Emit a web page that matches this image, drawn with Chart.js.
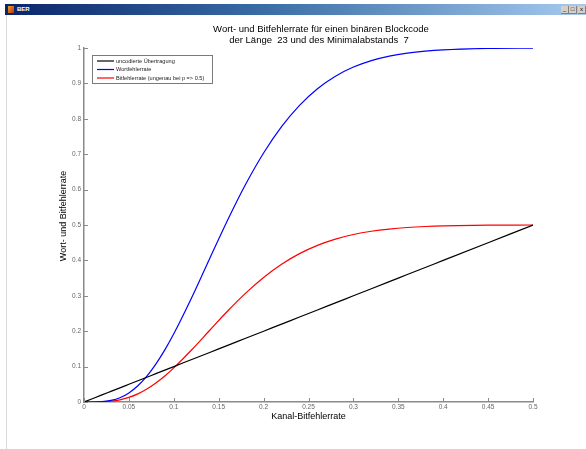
<!DOCTYPE html>
<html>
<head>
<meta charset="utf-8">
<script src="https://cdn.jsdelivr.net/npm/chart.js@4/dist/chart.umd.min.js"></script>
<style>
  html, body { margin: 0; padding: 0; background: #fff; }
  #wrap { position: relative; width: 586px; height: 449px; overflow: hidden; }
  #plot { position: absolute; left: 0; top: 0; }
  .titlebar { position: absolute; left: 5px; top: 4px; width: 581px; height: 11px;
    background: linear-gradient(to right, #0a246a, #3a6ea5 45%, #a6caf0); }
  .titlebar .icon { position: absolute; left: 3px; top: 2px; width: 6px; height: 7px;
    background: linear-gradient(135deg, #f0a020, #c03010); }
  .titlebar .name { position: absolute; left: 12px; top: 1px; color: #fff;
    font: bold 6px "Liberation Sans", Arial, sans-serif; line-height: 9px; }
  .titlebar .btn { position: absolute; top: 2px; width: 7px; height: 7px; background: #d4d0c8;
    border: 0 solid #808080; border-right-width: 1px; border-bottom-width: 1px;
    font: 6px "Liberation Sans", Arial, sans-serif; line-height: 7px; text-align: center; color: #000; }
  .edge { position: absolute; left: 6px; top: 15px; width: 1px; height: 434px; background: #d8d8d8; }
</style>
</head>
<body>
<div id="wrap">
  <canvas id="plot" width="586" height="449"></canvas>
  <div class="titlebar">
    <div class="icon"></div>
    <div class="name">BER</div>
    <div class="btn" style="left:556px">_</div>
    <div class="btn" style="left:564px">□</div>
    <div class="btn" style="left:573px">x</div>
  </div>
  <div class="edge"></div>
</div>
<script>
// Kanal-Bitfehlerrate p
const pValues = [0, 0.01, 0.02, 0.03, 0.04, 0.05, 0.06, 0.07, 0.08, 0.09, 0.10,
  0.12, 0.14, 0.16, 0.18, 0.20, 0.22, 0.24, 0.26, 0.28, 0.30,
  0.32, 0.34, 0.36, 0.38, 0.40, 0.45, 0.50];
// uncodierte Übertragung
const uncoded = [0, 0.01, 0.02, 0.03, 0.04, 0.05, 0.06, 0.07, 0.08, 0.09, 0.10,
  0.12, 0.14, 0.16, 0.18, 0.20, 0.22, 0.24, 0.26, 0.28, 0.30,
  0.32, 0.34, 0.36, 0.38, 0.40, 0.45, 0.50];
// Wortfehlerrate
const wordErr = [0, 0.00004, 0.0009, 0.0046, 0.0122, 0.0257, 0.0458, 0.0730, 0.1070, 0.1472, 0.1927,
  0.2952, 0.4053, 0.5141, 0.6150, 0.7035, 0.7779, 0.8381, 0.8850, 0.9203, 0.9462,
  0.9645, 0.9772, 0.9857, 0.9913, 0.9948, 0.9988, 0.9998];
// Bitfehlerrate
const bitErr = [0, 0.00002, 0.00045, 0.0023, 0.0061, 0.0129, 0.0229, 0.0365, 0.0535, 0.0736, 0.0964,
  0.1476, 0.2027, 0.2571, 0.3075, 0.3518, 0.3890, 0.4191, 0.4425, 0.4602, 0.4731,
  0.4823, 0.4886, 0.4929, 0.4957, 0.4974, 0.4994, 0.5000];

const seriesNames = ['uncodierte Übertragung', 'Wortfehlerrate', 'Bitfehlerrate (ungenau bei p => 0.5)'];
const seriesColors = ['#000000', '#0000ff', '#ff0000'];
const titleLines = ['Wort- und Bitfehlerrate für einen binären Blockcode', 'der Länge  23 und des Minimalabstands  7'];
const xLabel = 'Kanal-Bitfehlerrate';
const yLabel = 'Wort- und Bitfehlerrate';

const FONT = '"Liberation Sans", Arial, sans-serif';

function points(ys) {
  return pValues.map((p, i) => ({ x: p, y: ys[i] }));
}

function fmt(v) {
  return String(+(+v).toFixed(2));
}

// matlab look: inward ticks, title, y label and the legend box
const matlabDecor = {
  id: 'matlabDecor',
  afterDraw(chart) {
    const ctx = chart.ctx;
    const area = chart.chartArea;
    const xs = chart.scales.x, ys = chart.scales.y;
    ctx.save();
    ctx.strokeStyle = '#8a8a8a';
    ctx.lineWidth = 1;
    ctx.beginPath();
    xs.ticks.forEach(t => {
      const px = Math.round(xs.getPixelForValue(t.value)) + 0.5;
      ctx.moveTo(px, area.bottom);
      ctx.lineTo(px, area.bottom - 4);
    });
    ys.ticks.forEach(t => {
      const py = Math.round(ys.getPixelForValue(t.value)) + 0.5;
      ctx.moveTo(area.left, py);
      ctx.lineTo(area.left + 4, py);
    });
    ctx.stroke();

    // title
    ctx.fillStyle = '#000';
    ctx.font = '9.5px ' + FONT;
    ctx.textAlign = 'center';
    ctx.textBaseline = 'middle';
    ctx.fillText(titleLines[0], 321, 29);
    ctx.fillText(titleLines[1], 319, 40);

    // y label
    ctx.save();
    ctx.translate(64, 216);
    ctx.rotate(-Math.PI / 2);
    ctx.font = '9px ' + FONT;
    ctx.fillText(yLabel, 0, 0);
    ctx.restore();

    // legend
    const lx = 92, ly = 55, lw = 120, lh = 28;
    ctx.fillStyle = '#fff';
    ctx.fillRect(lx, ly, lw, lh);
    ctx.strokeStyle = '#7a7a7a';
    ctx.strokeRect(lx + 0.5, ly + 0.5, lw, lh);
    ctx.font = '5.6px ' + FONT;
    ctx.textAlign = 'left';
    chart.data.datasets.forEach((ds, i) => {
      const ry = ly + 6 + i * 8.5;
      ctx.strokeStyle = ds.borderColor;
      ctx.lineWidth = 1.2;
      ctx.beginPath();
      ctx.moveTo(lx + 5, ry);
      ctx.lineTo(lx + 22, ry);
      ctx.stroke();
      ctx.fillStyle = '#222';
      ctx.fillText(ds.label, lx + 24, ry);
    });
    ctx.restore();
  }
};

const datasets = [uncoded, wordErr, bitErr].map((ys, i) => ({
  label: seriesNames[i],
  data: points(ys),
  borderColor: seriesColors[i],
  borderWidth: 1.2,
  pointRadius: 0,
  fill: false,
  cubicInterpolationMode: 'monotone'
}));

const canvas = document.getElementById('plot');
new Chart(canvas, {
  type: 'line',
  data: { datasets: datasets },
  plugins: [matlabDecor],
  options: {
    responsive: false,
    animation: false,
    events: [],
    layout: { padding: { top: 48, right: 53, left: 0, bottom: 0 } },
    plugins: {
      legend: { display: false },
      tooltip: { enabled: false },
      title: { display: false }
    },
    scales: {
      x: {
        type: 'linear',
        min: 0,
        max: 0.5,
        afterFit(scale) { scale.height = 47; },
        grid: { display: false, drawTicks: false },
        border: { display: true, color: '#8a8a8a', width: 1.5 },
        ticks: {
          stepSize: 0.05,
          maxRotation: 0,
          autoSkip: false,
          padding: 1,
          color: '#666',
          font: { family: FONT, size: 6.5 },
          callback: fmt
        },
        title: {
          display: true,
          text: xLabel,
          color: '#000',
          font: { family: FONT, size: 9 },
          padding: { top: 0, bottom: 27.5 }
        }
      },
      y: {
        type: 'linear',
        min: 0,
        max: 1,
        afterFit(scale) { scale.width = 84; },
        grid: { display: false, drawTicks: false },
        border: { display: true, color: '#8a8a8a', width: 1.5 },
        ticks: {
          stepSize: 0.1,
          autoSkip: false,
          padding: 3,
          color: '#666',
          font: { family: FONT, size: 6.5 },
          callback: fmt
        }
      }
    }
  }
});
</script>
</body>
</html>
